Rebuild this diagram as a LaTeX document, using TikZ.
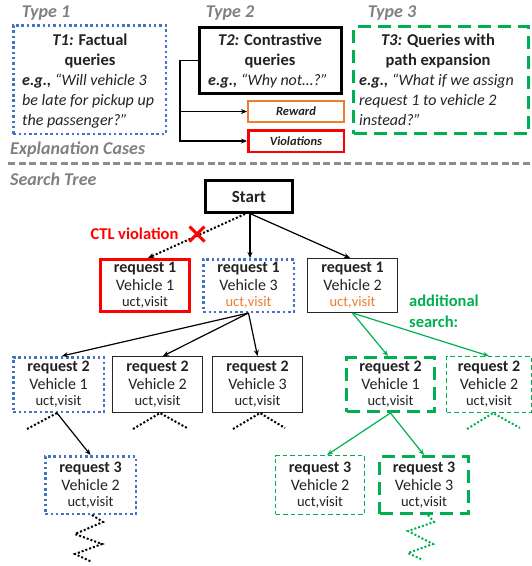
\documentclass[tikz,border=0pt]{standalone}
\usepackage{fontspec}
\setmainfont{Carlito}
\usetikzlibrary{arrows.meta,shapes.misc}
\definecolor{blueD}{HTML}{4472C4}
\definecolor{greenD}{HTML}{00B050}
\definecolor{orangeD}{HTML}{ED7D31}
\definecolor{redD}{HTML}{FF0000}
\definecolor{grayT}{HTML}{808080}
\definecolor{txt}{HTML}{222222}
\newcommand{\fsz}[2]{\fontsize{#1}{#2}\selectfont}
\newcommand{\tntext}[4][txt]{{\bfseries #2}\\#3\\[-2pt]{\fsz{14.5}{16}\color{#1}#4}}
\begin{document}
\begin{tikzpicture}[x=1pt,y=-1pt,
  hdr/.style={font=\fsz{18}{20}\bfseries\itshape, text=grayT, inner sep=0pt},
  bx/.style={rectangle, inner sep=0pt},
  bluedot/.style={draw=blueD, line width=2.5pt, dash pattern=on 2.5pt off 2.8pt},
  blkthick/.style={draw=black, line width=2.6pt},
  blkthin/.style={draw=black!85, line width=1.3pt},
  grnthick/.style={draw=greenD, line width=3pt, dash pattern=on 13pt off 7pt},
  grnthin/.style={draw=greenD, line width=1.1pt, dash pattern=on 4.5pt off 3pt},
  redbox/.style={draw=redD, line width=3pt},
  tnode/.style={rectangle, inner sep=0pt, align=center, text=txt, font=\fsz{16}{18}},
  conn/.style={line width=1.2pt, -{Stealth[length=6pt,width=5pt]}},
  dots/.style={line width=2pt, dash pattern=on 2pt off 2pt},
  body/.style={inner sep=0pt, text=txt, font=\fsz{16}{20}},
  bodyb/.style={body, font=\fsz{16.5}{20}\bfseries},
]
\useasboundingbox (0,0) rectangle (532,566);

% headers
\node[hdr] (type1) at (46,13) {Type 1};
\node[hdr] (type2) at (230,13) {Type 2};
\node[hdr] (type3) at (392,13) {Type 3};
\node[hdr, anchor=west] (expl) at (10,150) {Explanation Cases};
\node[hdr, anchor=west] (stree) at (10,179) {Search Tree};
\coordinate (sepL) at (8,163);
\coordinate (sepR) at (532,163);
\draw[line width=3pt, grayT!90, dash pattern=on 7pt off 3.5pt] (sepL) -- (sepR);

% explanation boxes
\node[bx, bluedot, minimum width=152.5pt, minimum height=108.5pt] (t1) at (89.5,79.5) {};
\node[bx, blkthick, minimum width=142.4pt, minimum height=66.4pt] (t2) at (270.5,60.5) {};
\node[bx, draw=orangeD, line width=2pt, minimum width=96pt, minimum height=21pt,
      font=\fsz{12.5}{14}\bfseries\itshape, text=txt] (reward) at (296,111.5) {Reward};
\node[bx, draw=redD, line width=2.5pt, minimum width=95.5pt, minimum height=21.5pt,
      font=\fsz{12.5}{14}\bfseries\itshape, text=txt] (viol) at (296,141) {Violations};
\node[bx, grnthick, minimum width=175pt, minimum height=107pt] (t3) at (441,80) {};

% T1 text
\node[bodyb, anchor=base] (t1a) at (90,45.5) {\textit{T1:} Factual};
\node[bodyb, anchor=base] (t1b) at (90,65.5) {queries};
\node[body, anchor=base west] (t1c) at (22,85.5) {\textbf{\textit{e.g.,}} \textit{“Will vehicle 3}};
\node[body, anchor=base west] (t1d) at (22,105.5) {\textit{be late for pickup up}};
\node[body, anchor=base west] (t1e) at (22,125.5) {\textit{the passenger?”}};
% T2 text
\node[bodyb, anchor=base] (t2a) at (270,45.5) {\textit{T2:} Contrastive};
\node[bodyb, anchor=base] (t2b) at (270,65.5) {queries};
\node[body, anchor=base] (t2c) at (268,85.5) {\textbf{\textit{e.g.,}} \textit{“Why not…?”}};
% T3 text
\node[bodyb, anchor=base] (t3a) at (438,45.5) {\textit{T3:} Queries with};
\node[bodyb, anchor=base] (t3b) at (438,65.5) {path expansion};
\node[body, anchor=base west] (t3c) at (359,85.5) {\textbf{\textit{e.g.,}} \textit{“What if we assign}};
\node[body, anchor=base west] (t3d) at (359,105.5) {\textit{request 1 to vehicle 2}};
\node[body, anchor=base west] (t3e) at (359,125.5) {\textit{instead?”}};

% bracket from T2
\coordinate (brt) at (180,60.5);
\draw[conn] (t2.west) -- (brt) |- (viol.west);
\draw[conn] (brt |- reward.west) -- (reward.west);

% search tree
\node[bx, blkthick, minimum width=87.4pt, minimum height=32.4pt, font=\fsz{17}{20}\bfseries, text=txt] (start) at (249,196.5) {Start};

\node[tnode, redbox, minimum width=89pt, minimum height=52pt] (l1a) at (145,285.5) {\tntext{request 1}{Vehicle 1}{uct,visit}};
\node[tnode, bluedot, minimum width=90.5pt, minimum height=52.5pt] (l1b) at (248.5,285.5) {\tntext[orangeD]{request 1}{Vehicle 3}{uct,visit}};
\node[tnode, blkthin, minimum width=89.7pt, minimum height=53.7pt] (l1c) at (352.5,285.5) {\tntext[orangeD]{request 1}{Vehicle 2}{uct,visit}};

\node[tnode, bluedot, minimum width=90.5pt, minimum height=54.5pt] (l2a) at (58.5,384.5) {\tntext{request 2}{Vehicle 1}{uct,visit}};
\node[tnode, blkthin, minimum width=89.7pt, minimum height=55.7pt] (l2b) at (157.5,384.5) {\tntext{request 2}{Vehicle 2}{uct,visit}};
\node[tnode, blkthin, minimum width=89.7pt, minimum height=55.7pt] (l2c) at (257.5,384.5) {\tntext{request 2}{Vehicle 3}{uct,visit}};
\node[tnode, grnthick, minimum width=88pt, minimum height=54pt] (l2d) at (390.5,384.5) {\tntext{request 2}{Vehicle 1}{uct,visit}};
\node[tnode, grnthin, minimum width=84.9pt, minimum height=55.9pt] (l2e) at (489,384.5) {\tntext{request 2}{Vehicle 2}{uct,visit}};

\node[tnode, bluedot, minimum width=90.5pt, minimum height=57.5pt] (l3a) at (90.5,485) {\tntext{request 3}{Vehicle 2}{uct,visit}};
\node[tnode, grnthin, minimum width=88.9pt, minimum height=58.9pt] (l3b) at (320,485) {\tntext{request 3}{Vehicle 2}{uct,visit}};
\node[tnode, grnthick, minimum width=89pt, minimum height=57pt] (l3c) at (424,485) {\tntext{request 3}{Vehicle 3}{uct,visit}};

% labels
\node[font=\fsz{16.5}{18}\bfseries, text=redD, inner sep=0pt] (ctl) at (134.5,234) {CTL violation};
\node[font=\fsz{16.5}{18}\bfseries, text=greenD, inner sep=0pt, anchor=base west] (adda) at (409,306.5) {additional};
\node[font=\fsz{16.5}{18}\bfseries, text=greenD, inner sep=0pt, anchor=base west] (addb) at (409,327.5) {search:};

% level 1 connectors
\draw[conn, dots] ([xshift=-4pt]start.south) -- ([xshift=3pt]l1a.north);
\node[cross out, draw=redD, line width=3pt, minimum size=12pt, inner sep=0pt] (xmark) at (197,234) {};
\draw[conn] ([xshift=1pt]start.south) -- ([xshift=1.5pt]l1b.north);
\draw[conn] ([xshift=2pt]start.south) -- ([xshift=-2.5pt]l1c.north);

% level 2 connectors
\draw[conn] (l1b.south) -- ([xshift=3.5pt]l2a.north);
\draw[conn] (l1b.south) -- ([xshift=5.5pt]l2b.north);
\draw[conn] (l1b.south) -- (l2c.north);
\draw[conn, greenD] (l1c.south) -- ([xshift=-2.5pt]l2d.north);
\draw[conn, greenD] (l1c.south) -- (l2e.north);

% level 2 stubs and level 3 connectors
\coordinate (a2l) at (27,429);
\coordinate (b2l) at (133,429);
\coordinate (b2r) at (187,428);
\coordinate (c2l) at (233,429);
\coordinate (c2r) at (285,428);
\coordinate (e2l) at (467,429);
\coordinate (e2r) at (520,428);
\draw[dots] ([xshift=-1.5pt]l2a.south) -- (a2l);
\draw[conn] ([xshift=-1.5pt]l2a.south) -- (l3a.north);
\draw[dots] (b2l) -- ([xshift=2.5pt]l2b.south) -- (b2r);
\draw[dots] (c2l) -- ([xshift=2.5pt]l2c.south) -- (c2r);
\draw[conn, greenD] (l2d.south) -- ([xshift=7pt]l3b.north);
\draw[conn, greenD] (l2d.south) -- (l3c.north);
\draw[dots, greenD] (e2l) -- ([xshift=4pt]l2e.south) -- (e2r);

% zigzags
\draw[dots] ([xshift=1.5pt]l3a.south) -- ++(11,7) -- ++(-28,12) -- ++(27,10) -- ++(-27,10) -- ++(17,8);
\draw[dots, greenD] ([xshift=4pt]l3c.south) -- ++(6,7) -- ++(-26,9) -- ++(25,13) -- ++(-25,9) -- ++(15,7);
\end{tikzpicture}
\end{document}
